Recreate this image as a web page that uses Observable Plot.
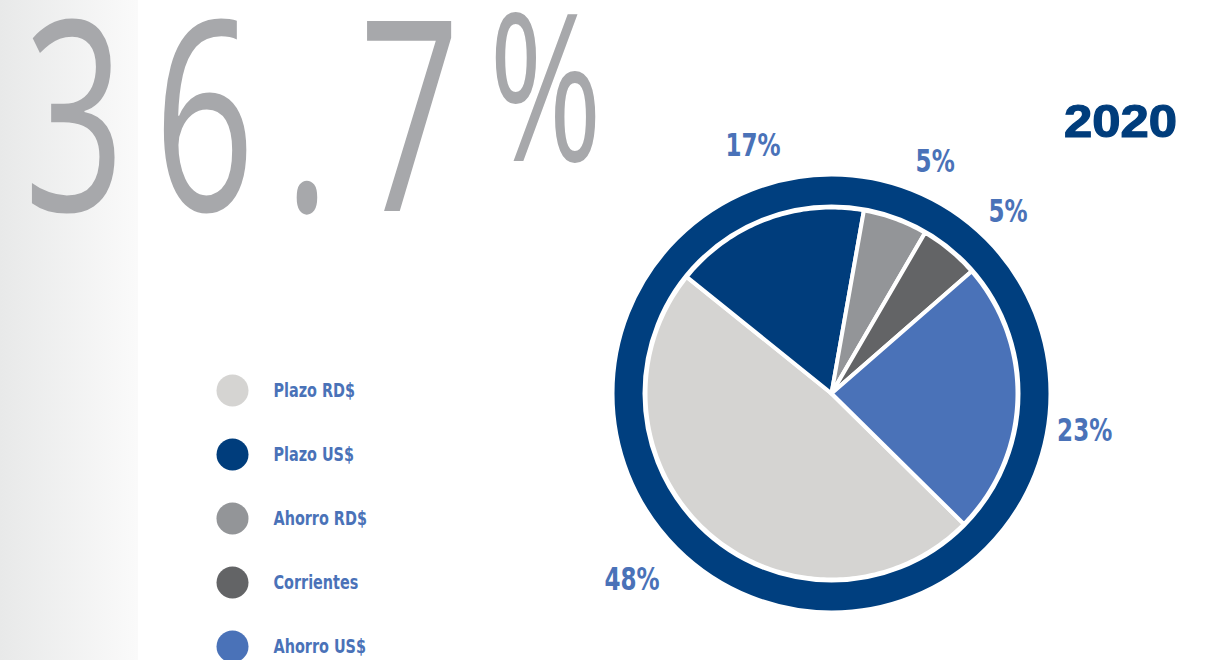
<!DOCTYPE html>
<html><head><meta charset="utf-8">
<script src="https://cdn.jsdelivr.net/npm/d3@7"></script>
<script src="https://cdn.jsdelivr.net/npm/@observablehq/plot@0.6"></script>
<style>
html,body{margin:0;padding:0;background:#fff;overflow:hidden}
#root{position:relative;width:1215px;height:660px;overflow:hidden;background:#fff}
#grad{position:absolute;left:0;top:0;width:138px;height:660px;background:linear-gradient(to right,#e8e9e9,#fafafa)}
#texts{position:absolute;left:0;top:0}
#pie{position:absolute;left:511px;top:83px}
#legend{position:absolute;left:200px;top:360px}
</style></head><body>
<div id="root">
  <div id="grad"></div>
  <svg id="texts" width="1215" height="660"></svg>
  <div id="pie"></div>
  <div id="legend"></div>
</div>
<script>
// ---- data ----
const categories = ["Plazo RD$", "Plazo US$", "Ahorro RD$", "Corrientes", "Ahorro US$"];
const shares = [48.4, 17.0, 5.6, 5.2, 23.8];
const shareLabels = ["48%", "17%", "5%", "5%", "23%"];
const colors = ["#d5d4d2", "#003d7c", "#939598", "#636466", "#4a72b8"];
const headline = "36.7%";
const yearLabel = "2020";

const labelFont = "'DejaVu Sans Condensed', 'Noto Sans', sans-serif";

// squeeze text horizontally (condensed look)
function condense(root, factor) {
  root.querySelectorAll("text").forEach(t => {
    const w = t.getComputedTextLength();
    if (w > 0) {
      t.setAttribute("textLength", (w * factor).toFixed(1));
      t.setAttribute("lengthAdjust", "spacingAndGlyphs");
    }
  });
}

// ---- headline texts ----
const svg = d3.select("#texts");
const big = svg.append("text")
  .attr("x", 0).attr("y", 0)
  .attr("font-family", "'Open Sans', 'Noto Sans', sans-serif")
  .attr("font-weight", 400)
  .attr("font-size", 266)
  .attr("fill", "#a7a8ab");
big.append("tspan").text(headline.slice(0, -1));
big.append("tspan").attr("font-size", 206).attr("dy", -50).text(headline.slice(-1));
{
  const natural = big.node().getComputedTextLength();
  const targetW = 578;
  const sx = 0.8 * targetW / natural;
  big.attr("transform", `translate(24,211) scale(${sx},1)`)
     .attr("textLength", targetW / sx)
     .attr("lengthAdjust", "spacing");
}
svg.append("text")
  .attr("x", 1064).attr("y", 137)
  .attr("font-family", "'Liberation Sans', Arial, sans-serif")
  .attr("font-weight", 900)
  .attr("font-size", 46)
  .attr("fill", "#003d7c")
  .attr("stroke", "#003d7c")
  .attr("stroke-width", 1.2)
  .attr("textLength", 113)
  .attr("lengthAdjust", "spacingAndGlyphs")
  .text(yearLabel);

// ---- pie geometry from data ----
const table = categories.map((name, i) => ({name, value: shares[i], label: shareLabels[i]}));
const startDeg = 134.6;
const arcs = d3.pie().sort(null).value(d => d.value)
  .startAngle(startDeg * Math.PI / 180)
  .endAngle(startDeg * Math.PI / 180 + 2 * Math.PI)(table);

const R = 186;
const points = [];
for (const a of arcs) {
  points.push({name: a.data.name, x: 0, y: 0});
  const n = Math.max(2, Math.ceil((a.endAngle - a.startAngle) / (Math.PI / 180)));
  for (let k = 0; k <= n; k++) {
    const t = a.startAngle + (a.endAngle - a.startAngle) * k / n;
    points.push({name: a.data.name, x: R * Math.sin(t), y: R * Math.cos(t)});
  }
}
const labelR = 263;
const labelShift = 5 * Math.PI / 180;
const labelData = arcs.map(a => {
  const m = (a.startAngle + a.endAngle) / 2 + labelShift;
  return {label: a.data.label, x: labelR * Math.sin(m), y: labelR * Math.cos(m)};
});

const colorScale = {domain: categories, range: colors};

const pie = Plot.plot({
  width: 640, height: 620, margin: 0,
  x: {domain: [-320, 320], axis: null},
  y: {domain: [-310, 310], axis: null},
  color: colorScale,
  style: {background: "transparent", overflow: "visible"},
  marks: [
    Plot.dot([{x: 0, y: 0}], {x: "x", y: "y", r: 203, fill: "none", stroke: "#003f7f", strokeWidth: 28}),
    Plot.line(points, {x: "x", y: "y", z: "name", fill: "name", stroke: "white", strokeWidth: 4, strokeLinejoin: "round", curve: "linear-closed"}),
    Plot.text(labelData, {x: "x", y: "y", text: "label", dx: -8, dy: 6, fill: "#4a72b8", fontSize: 32, fontWeight: 700, fontFamily: labelFont})
  ]
});
document.getElementById("pie").appendChild(pie);
condense(pie, 0.8);

const legend = Plot.plot({
  width: 250, height: 300, margin: 0,
  x: {domain: [0, 1], range: [32, 232], axis: null},
  y: {type: "point", domain: categories, range: [29, 287], padding: 0, axis: null},
  color: colorScale,
  style: {background: "transparent", overflow: "visible"},
  marks: [
    Plot.dot(categories, {x: () => 0, y: d => d, r: 16, fill: d => d}),
    Plot.text(categories, {x: () => 0, y: d => d, text: d => d, dx: 41, textAnchor: "start", fill: "#4a72b8", fontSize: 20, fontWeight: 700, fontFamily: labelFont})
  ]
});
document.getElementById("legend").appendChild(legend);
condense(legend, 0.8);
</script>
</body></html>
